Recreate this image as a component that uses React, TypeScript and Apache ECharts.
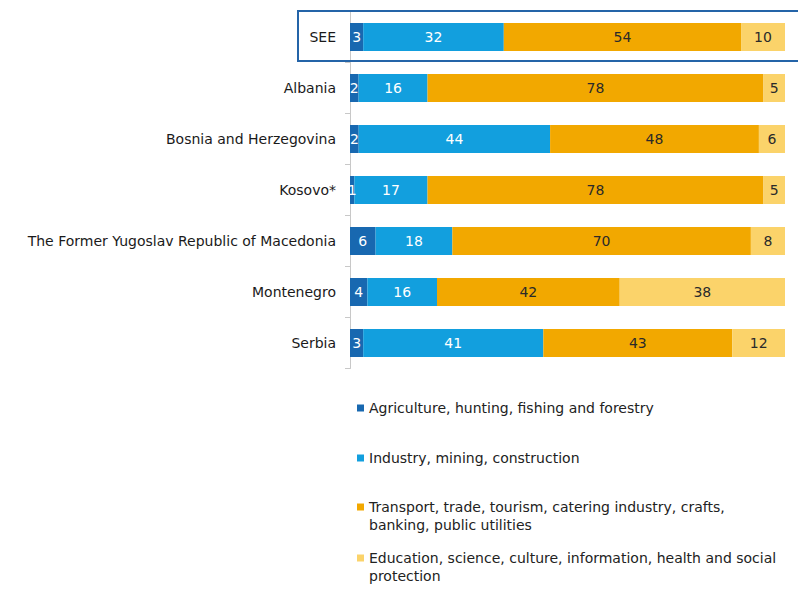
import React, { useEffect, useRef } from "react";
import * as echarts from "echarts";

const categories = [
  "SEE",
  "Albania",
  "Bosnia and Herzegovina",
  "Kosovo*",
  "The Former Yugoslav Republic of Macedonia",
  "Montenegro",
  "Serbia",
];

const seriesNames = [
  "Agriculture, hunting, fishing and forestry",
  "Industry, mining, construction",
  "Transport, trade, tourism, catering industry, crafts, banking, public utilities",
  "Education, science, culture, information, health and social protection",
];

const agriculture = [3, 2, 2, 1, 6, 4, 3];
const industry = [32, 16, 44, 17, 18, 16, 41];
const transport = [54, 78, 48, 78, 70, 42, 43];
const education = [10, 5, 6, 5, 8, 38, 12];

const colors = ["#1868b0", "#129fde", "#f2a800", "#fbd36a"];
const labelColors = ["#ffffff", "#ffffff", "#2a2a2a", "#2a2a2a"];

const FONT = "DejaVu Sans";
const FS = 14;

export default function App() {
  const ref = useRef<HTMLDivElement>(null);

  useEffect(() => {
    if (!ref.current) return;
    const chart = echarts.init(ref.current, undefined, { renderer: "svg" });
    const raw = [agriculture, industry, transport, education];
    const totals = categories.map((_, i) => raw.reduce((s, arr) => s + arr[i], 0));

    const series = raw.map((arr, si) => ({
      name: seriesNames[si],
      type: "bar",
      stack: "total",
      barWidth: 28,
      itemStyle: { color: colors[si] },
      label: {
        show: true,
        position: "inside",
        color: labelColors[si],
        fontFamily: FONT,
        fontSize: FS,
        formatter: (p: any) => String(arr[p.dataIndex]),
      },
      emphasis: { disabled: true },
      data: arr.map((v, i) => (v / totals[i]) * 100),
    }));

    const legendTops = [399, 449, 498, 549];
    const legendFormat = [
      seriesNames[0],
      seriesNames[1],
      "Transport, trade, tourism, catering industry, crafts,",
      "Education, science, culture, information, health and social",
    ];

    const legends = seriesNames.map((n, i) => ({
      show: true,
      orient: "vertical",
      left: 357,
      top: legendTops[i],
      padding: 0,
      itemWidth: 7,
      itemHeight: 7,
      icon: "rect",
      selectedMode: false,
      data: [n],
      formatter: () => legendFormat[i],
      textStyle: { fontFamily: FONT, fontSize: FS, color: "#222", lineHeight: 18 },
    }));

    chart.setOption({
      animation: false,
      textStyle: { fontFamily: FONT },
      grid: { left: 350, right: 13, top: 11.5, bottom: 223.5, containLabel: false },
      xAxis: { type: "value", min: 0, max: 100, show: false },
      yAxis: {
        type: "category",
        inverse: true,
        data: categories,
        axisLine: { show: true, lineStyle: { color: "#c8c8c8", width: 1 } },
        axisTick: { show: true, length: 5, lineStyle: { color: "#c8c8c8" } },
        axisLabel: { color: "#1a1a1a", fontSize: FS, fontFamily: FONT, margin: 14 },
      },
      legend: legends,
      series,
      graphic: [
        {
          type: "rect",
          shape: { x: 298, y: 11, width: 510, height: 50 },
          style: { fill: "none", stroke: "#2464a8", lineWidth: 2 },
          z: 100,
        },
        {
          type: "text",
          left: 369,
          top: 518,
          style: { text: "banking, public utilities", fontFamily: FONT, fontSize: FS, fill: "#222" },
        },
        {
          type: "text",
          left: 369,
          top: 569,
          style: { text: "protection", fontFamily: FONT, fontSize: FS, fill: "#222" },
        },
      ],
    });
    return () => chart.dispose();
  }, []);

  return (
    <div
      ref={ref}
      style={{ position: "fixed", left: 0, top: 0, width: 798, height: 592, background: "#fff" }}
    />
  );
}
